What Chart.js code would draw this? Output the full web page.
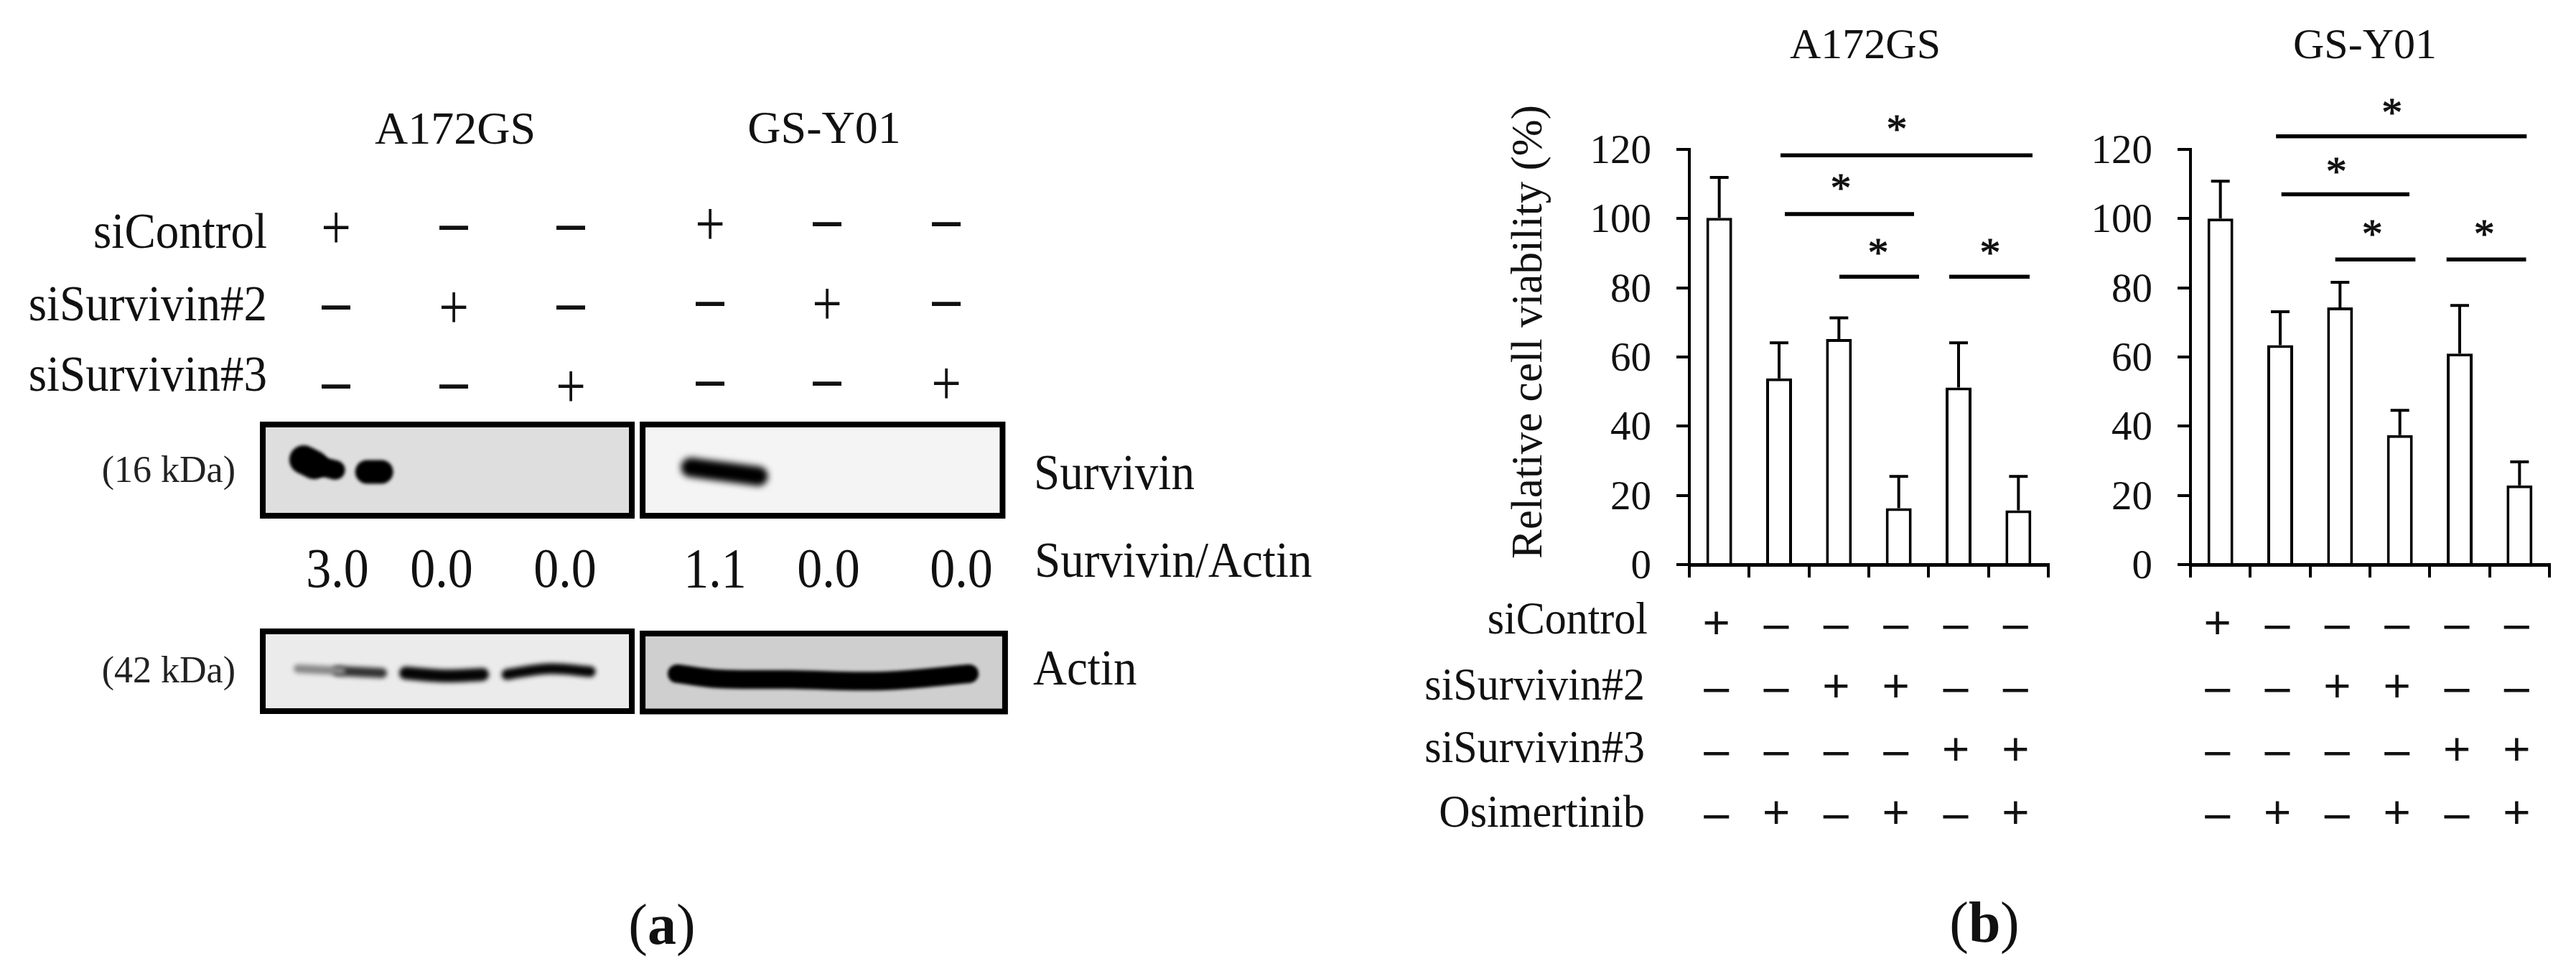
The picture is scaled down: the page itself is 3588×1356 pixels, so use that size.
<!DOCTYPE html>
<html><head><meta charset="utf-8">
<script src="https://cdn.jsdelivr.net/npm/chart.js@4"></script>
<style>
html,body{margin:0;padding:0;background:#fff;width:3588px;height:1356px;overflow:hidden}
canvas{position:absolute;top:0}
#blot{left:0}#chartA{left:1900px}#chartB{left:2900px}
</style></head><body>
<canvas id="blot" width="1900" height="1356"></canvas>
<canvas id="chartA" width="1000" height="1356"></canvas>
<canvas id="chartB" width="688" height="1356"></canvas>
<script>
const FONT = '"Liberation Serif"';
// ---- panel (b) data ----
const rowNames = ['siControl','siSurvivin#2','siSurvivin#3','Osimertinib'];
const laneLabels = [
  ['+','–','–','–'],['–','–','–','+'],['–','+','–','–'],
  ['–','+','–','+'],['–','–','+','–'],['–','–','+','+']
];
const valuesA = [100.2,53.8,65.2,16.3,51.2,15.7];
const errTopA = [111.9,64.1,71.3,25.5,64.1,25.5];
const valuesB = [100.0,63.4,74.3,37.4,61.0,22.9];
const errTopB = [110.8,73.1,81.6,44.6,74.9,29.7];
const bracketsA = [[1.524,5.736,118.3],[1.596,3.756,101.3],[2.508,3.84,83.2],[4.344,5.688,83.2]];
const starsA    = [[3.468,127.5],[2.532,110.6],[3.156,91.8],[5.028,91.8]];
const bracketsB = [[1.43,5.62,123.8],[1.52,3.66,107.0],[2.42,3.76,88.2],[4.28,5.61,88.2]];
const starsB    = [[3.37,132.3],[2.44,115.3],[3.04,97.3],[4.91,97.3]];
const yTicks = [0,20,40,60,80,100,120];
// ---- panel (a) data ----
const blotRows = ['siControl','siSurvivin#2','siSurvivin#3'];
const blotSigns = [['+','–','–','+','–','–'],['–','+','–','–','+','–'],['–','–','+','–','–','+']];
const ratioLabels = ['3.0','0.0','0.0','1.1','0.0','0.0'];
const panels = [
  {x:[0.006,2.976],y:[2.725,3.97],fill:'#dedede'},
  {x:[3.063,5.96],y:[2.725,3.97],fill:'#f4f4f4'},
  {x:[0.006,2.976],y:[0.059,1.147],fill:'#ebebeb'},
  {x:[3.063,5.98],y:[0.054,1.118],fill:'#cfcfcf'}
];
const bands = [
  {pts:[[0.335,3.490],[0.420,3.420]],w:40,c:'#000',blur:2},
  {pts:[[0.470,3.400],[0.590,3.350]],w:27,c:'#000',blur:2},
  {pts:[[0.845,3.324],[0.960,3.324]],w:33,c:'#000',blur:2},
  {pts:[[3.450,3.385],[3.727,3.325],[3.993,3.265]],w:27,c:'#000',blur:5},
  {pts:[[0.289,0.637],[0.636,0.608]],w:12,c:'#888',blur:3},
  {pts:[[0.607,0.608],[0.965,0.578]],w:14,c:'#333',blur:3},
  {pts:[[1.156,0.578],[1.474,0.539],[1.774,0.559]],w:18,c:'#050505',blur:3},
  {pts:[[1.971,0.559],[2.311,0.637],[2.641,0.598]],w:15,c:'#050505',blur:3},
  {pts:[[3.340,0.569],[3.669,0.500],[4.247,0.490],[4.999,0.471],[5.692,0.569]],w:26,c:'#000',blur:2}
];

// text painter: page coordinates, real canvas text
function textLayer(items, offsetX){
  return {id:'textLayer', afterDraw(chart){
    const c = chart.ctx;
    const list = typeof items==='function' ? items(chart) : items;
    for(const t of list){
      c.save();
      c.font = t.font; c.fillStyle = t.color||'#111';
      c.textAlign = t.align||'center'; c.textBaseline = 'middle';
      c.translate(t.x-offsetX,t.y);
      if(t.rot) c.rotate(t.rot);
      if(t.sy) c.scale(1,t.sy);
      if(t.stroke){c.lineWidth=t.stroke;c.strokeStyle=c.fillStyle;c.strokeText(t.t,0,0);}
      c.fillText(t.t,0,0);
      c.restore();
    }
  }};
}
const blurPlugin = {id:'blur',
  beforeDatasetDraw(chart,a){const d=chart.data.datasets[a.index];chart.ctx.save();if(d.blur)chart.ctx.filter=`blur(${d.blur}px)`;},
  afterDatasetDraw(chart){chart.ctx.restore();}};

// ---- blot chart ----
const blotText = [];
[['A172GS',634,183],['GS-Y01',1148,182]].forEach(([t,x,y])=>blotText.push({t,x,y,font:`64px ${FONT}`}));
const blotRowY = [327,428,526];
blotRows.forEach((t,i)=>blotText.push({t,x:372,y:blotRowY[i],font:`65px ${FONT}`,align:'right',sy:1.07}));
const signX=[468,632,795,989,1152,1318], signY=[[317,312],[428,423],[538,534]];
blotSigns.forEach((r,i)=>r.forEach((s,j)=>{
  const y0=signY[i][j<3?0:1];
  blotText.push(s==='+'?{t:s,x:signX[j],y:y0+6,font:`74px ${FONT}`,sy:1.2}:{t:s,x:signX[j],y:y0-2,font:`74px ${FONT}`,stroke:2});
}));
const ratioX=[470,615,787,996,1154,1339];
ratioLabels.forEach((t,i)=>blotText.push({t,x:ratioX[i],y:797,font:`70px ${FONT}`,sy:1.11}));
[['(16 kDa)',328,657],['(42 kDa)',328,936]].forEach(([t,x,y])=>blotText.push({t,x,y,font:`52px ${FONT}`,align:'right',color:'#222'}));
[['Survivin',1440,663],['Survivin/Actin',1441,785],['Actin',1439,935]].forEach(([t,x,y])=>blotText.push({t,x,y,font:`65px ${FONT}`,align:'left',sy:1.07}));

const blotDatasets = [];
bands.forEach(b=>blotDatasets.push({data:b.pts.map(p=>({x:p[0],y:p[1]})),showLine:true,tension:0.4,pointRadius:0,
  borderColor:b.c,borderWidth:b.w,borderCapStyle:'round',blur:b.blur,clip:false,order:1}));
panels.forEach(p=>blotDatasets.push({
  data:[[p.x[0],p.y[0]],[p.x[1],p.y[0]],[p.x[1],p.y[1]],[p.x[0],p.y[1]],[p.x[0],p.y[0]]].map(q=>({x:q[0],y:q[1]})),
  showLine:true,tension:0,pointRadius:0,fill:'shape',backgroundColor:p.fill,borderColor:'#000',borderWidth:8,borderJoinStyle:'miter',borderCapStyle:'square',clip:false,order:2}));
new Chart(document.getElementById('blot'),{
  type:'scatter',data:{datasets:blotDatasets},
  options:{responsive:false,animation:false,devicePixelRatio:1,
    layout:{padding:{left:365,right:1900-1412,top:588,bottom:1356-996}},
    plugins:{legend:{display:false},tooltip:{enabled:false},title:{display:false}},
    scales:{x:{type:'linear',min:0,max:6.05,display:false},y:{type:'linear',min:0,max:4,display:false}}},
  plugins:[blurPlugin,textLayer([...blotText,
    {t:'(',x:902,y:1293,font:`80px ${FONT}`,align:'right'},{t:'a',x:902,y:1293,font:`bold 80px ${FONT}`,align:'left'},{t:')',x:942,y:1293,font:`80px ${FONT}`,align:'left'}],0)]
});

// ---- bar charts ----
function barChart(id,offsetX,axisX,rightX,values,errTop,brackets,stars,title,titleX,withLabels){
  const LW=4;
  const errData=[];
  errTop.forEach((top,i)=>{const x=i+0.5;
    errData.push({x,y:values[i]},{x,y:top},{x:x-0.156,y:top},{x:x+0.156,y:top},{x:NaN,y:NaN});});
  const brData=[];
  brackets.forEach(b=>{brData.push({x:b[0],y:b[2]},{x:b[1],y:b[2]},{x:NaN,y:NaN});});
  const extra=[{t:title,x:titleX,y:65,font:`60px ${FONT}`}];
  if(withLabels){
    const ry=[865,957,1044,1134];
    rowNames.forEach((t,i)=>extra.push({t,x:i==0?2295:2291,y:ry[i],font:`60px ${FONT}`,align:'right',sy:1.07}));
    extra.push({t:'Relative cell viability (%)',x:2131,y:462,rot:-Math.PI/2,font:`61px ${FONT}`});
    extra.push({t:'(',x:2742,y:1290,font:`80px ${FONT}`,align:'right'},{t:'b',x:2742,y:1290,font:`bold 80px ${FONT}`,align:'left'},{t:')',x:2786,y:1290,font:`80px ${FONT}`,align:'left'});
  }
  new Chart(document.getElementById(id),{
    type:'bar',
    data:{labels:laneLabels,datasets:[
      {type:'bar',data:values,xAxisID:'x',yAxisID:'y',backgroundColor:'#fff',borderColor:'#000',borderWidth:4,barPercentage:0.432,categoryPercentage:1,grouped:false,order:2},
      {type:'scatter',data:errData,xAxisID:'xs',yAxisID:'y',showLine:true,pointRadius:0,borderColor:'#000',borderWidth:LW,spanGaps:false,order:3},
      {type:'scatter',data:brData,xAxisID:'xs',yAxisID:'y',showLine:true,pointRadius:0,borderColor:'#000',borderWidth:5.5,clip:false,spanGaps:false,order:1}
    ]},
    options:{responsive:false,animation:false,devicePixelRatio:1,
      layout:{padding:{left:0,right:(id==='chartA'?1000:688)-(rightX-offsetX),top:208,bottom:0}},
      plugins:{legend:{display:false},tooltip:{enabled:false},title:{display:false}},
      scales:{
        x:{position:'bottom',offset:true,
          afterFit(s){s.height=1356-786;},
          border:{display:true,color:'#000',width:5},
          grid:{display:true,drawOnChartArea:false,drawTicks:true,tickLength:18,color:'#000',lineWidth:LW,offset:true},
          ticks:{autoSkip:false,maxRotation:0,minRotation:0,padding:24,labelOffset:-4,color:'#111',textStrokeColor:'#111',textStrokeWidth:1.2,font:{family:FONT,size:66,lineHeight:88/66}}},
        xs:{type:'linear',min:0,max:6,display:false,position:'bottom',offset:false},
        y:{min:0,max:120,position:'left',
          afterFit(s){s.width=axisX-offsetX;},
          afterBuildTicks(s){s.ticks=yTicks.map(v=>({value:v}));},
          border:{display:true,color:'#000',width:LW},
          grid:{display:true,drawOnChartArea:false,drawTicks:true,tickLength:18,color:'#000',lineWidth:LW},
          ticks:{padding:35,labelOffset:4,color:'#111',font:{family:FONT,size:57}}}
      }},
    plugins:[textLayer(ch=>{
      const list=[...extra];
      stars.forEach(s=>list.push({t:'*',x:ch.scales.xs.getPixelForValue(s[0])+offsetX,y:ch.scales.y.getPixelForValue(s[1])+12,font:`58px ${FONT}`,color:'#111',stroke:1}));
      return list;},offsetX)]
  });
}
barChart('chartA',1900,2353,2853,valuesA,errTopA,bracketsA,starsA,'A172GS',2598,true);
barChart('chartB',2900,3051,3551,valuesB,errTopB,bracketsB,starsB,'GS-Y01',3294,false);
</script></body></html>
